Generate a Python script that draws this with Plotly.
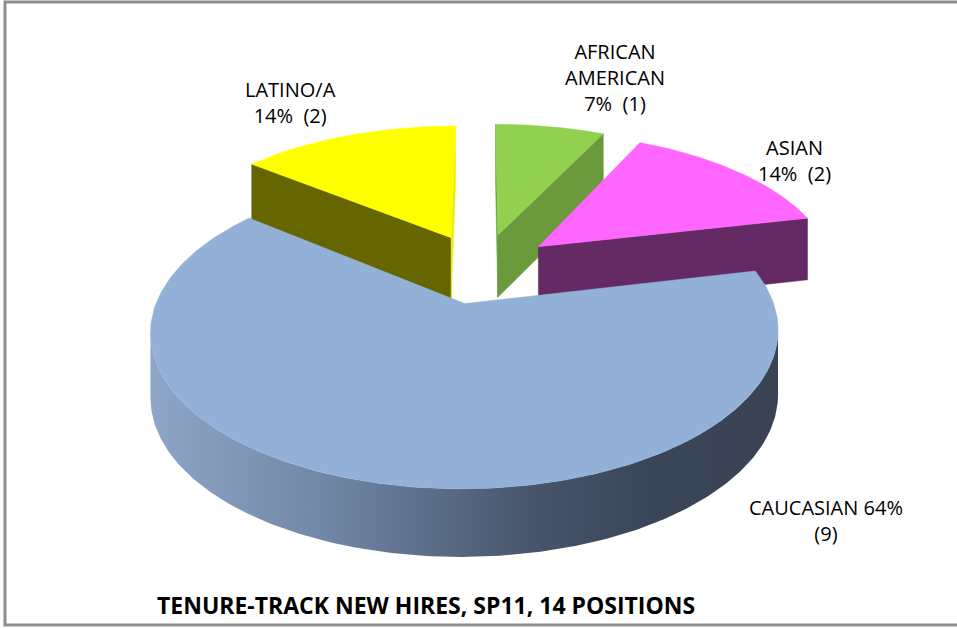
import numpy as np
import plotly.graph_objects as go

# ---- data ----
categories = ["AFRICAN AMERICAN", "ASIAN", "CAUCASIAN", "LATINO/A"]
counts = [1, 2, 9, 2]
label_templates = [
    "AFRICAN<br>AMERICAN<br>{p}%  ({n})",
    "ASIAN<br>{p}%  ({n})",
    "CAUCASIAN {p}%<br>({n})",
    "LATINO/A<br>{p}%  ({n})",
]
title_text = "TENURE-TRACK NEW HIRES, SP11, 14 POSITIONS"

# ---- style ----
top_colors = ["#92D050", "#FF66FF", "#93B1D6", "#FFFF00"]
start_face_colors = ["#6A9A3C", "#652865", "#5E7490", "#666600"]
end_face_colors = ["#6A9A3C", "#632A63", "#5E7490", "#EDED00"]
wall_colors = ["#6A9A3C", "#632A63", None, "#666600"]
wall_gradient = [[0.0, "#8EA6C7"], [0.3, "#6E84A2"], [0.62, "#46536A"], [0.8, "#3A4558"], [1.0, "#394354"]]
label_pos = [(615, 77), (794, 160), (826, 520), (290, 102)]

# projection parameters (pixel space)
CX, CY = 482.0, 268.0
A, B, K = 296.0, 140.0, 0.17
PULL = 0.25
H, KH = 63.0, 0.06


def proj(u, v, bottom=False):
    u = np.asarray(u, dtype=float)
    v = np.asarray(v, dtype=float)
    den = 1 + K * v
    x = CX + A * u / den
    y = CY - B * v / den
    if bottom:
        y = y + H / (1 + KH * v)
    return x, y


def area(xs, ys):
    xs = np.asarray(xs); ys = np.asarray(ys)
    return float(np.sum(xs * np.roll(ys, -1) - np.roll(xs, -1) * ys))


total = sum(counts)
fracs = [c / total for c in counts]
starts = np.cumsum([0] + fracs[:-1]) * 2 * np.pi
ends = np.cumsum(fracs) * 2 * np.pi

fig = go.Figure()

order = sorted(range(len(counts)), key=lambda i: -np.cos((starts[i] + ends[i]) / 2))

for i in order:
    t0, t1 = starts[i], ends[i]
    mid = (t0 + t1) / 2
    ou, ov = PULL * np.sin(mid), PULL * np.cos(mid)
    ts = np.linspace(t0, t1, 200)
    ru, rv = ou + np.sin(ts), ov + np.cos(ts)
    xt, yt = proj(ru, rv)
    ax_t, ay_t = proj(ou, ov)
    ax_b, ay_b = proj(ou, ov, bottom=True)

    # outer wall: visible between rightmost and leftmost points of this slice's ellipse
    tf = np.linspace(0, 2 * np.pi, 2000)
    fx, _ = proj(ou + np.sin(tf), ov + np.cos(tf))
    t_right, t_left = tf[np.argmax(fx)], tf[np.argmin(fx)]
    w0, w1 = max(t0, t_right), min(t1, t_left)
    if w1 > w0:
        tw = np.linspace(w0, w1, 200)
        wu, wv = ou + np.sin(tw), ov + np.cos(tw)
        wxt, wyt = proj(wu, wv)
        wxb, wyb = proj(wu, wv, bottom=True)
        px = np.concatenate([wxt, wxb[::-1], wxt[:1]])
        py = np.concatenate([wyt, wyb[::-1], wyt[:1]])
        if wall_colors[i] is None:
            fig.add_trace(go.Scatter(x=px, y=py, mode="lines", fill="toself",
                                     line=dict(width=0, color="#5E7490"),
                                     fillgradient=dict(type="horizontal", colorscale=wall_gradient),
                                     hoverinfo="skip"))
        else:
            fig.add_trace(go.Scatter(x=px, y=py, mode="lines", fill="toself",
                                     fillcolor=wall_colors[i], line=dict(width=0.5, color=wall_colors[i]),
                                     hoverinfo="skip"))

    # radial cut faces (drawn only when facing the viewer)
    for t, sign, col in ((t0, -1, start_face_colors[i]), (t1, 1, end_face_colors[i])):
        rx_t, ry_t = proj(ou + np.sin(t), ov + np.cos(t))
        rx_b, ry_b = proj(ou + np.sin(t), ov + np.cos(t), bottom=True)
        qx = [float(ax_t), float(rx_t), float(rx_b), float(ax_b)]
        qy = [float(ay_t), float(ry_t), float(ry_b), float(ay_b)]
        if area(qx, qy) * sign > 0:
            fig.add_trace(go.Scatter(x=qx + qx[:1], y=qy + qy[:1], mode="lines", fill="toself",
                                     fillcolor=col, line=dict(width=0.5, color=col),
                                     hoverinfo="skip"))

    # top face
    px = np.concatenate([[ax_t], xt, [ax_t]])
    py = np.concatenate([[ay_t], yt, [ay_t]])
    fig.add_trace(go.Scatter(x=px, y=py, mode="lines", fill="toself",
                             fillcolor=top_colors[i], line=dict(width=0.5, color=top_colors[i]),
                             hoverinfo="skip"))

font_family = "'Open Sans', Lato, sans-serif"
for i, tpl in enumerate(label_templates):
    p = round(100 * counts[i] / total)
    fig.add_annotation(x=label_pos[i][0], y=label_pos[i][1], xref="x", yref="y",
                       text=tpl.format(p=p, n=counts[i]), showarrow=False,
                       align="center", font=dict(family=font_family, size=20, color="#000000"))

fig.add_annotation(x=426, y=605, xref="x", yref="y", text="<b>" + title_text + "</b>",
                   showarrow=False, font=dict(family=font_family, size=23, color="#000000"))

fig.add_shape(type="rect", xref="x", yref="y", x0=5, y0=2, x1=962, y1=625,
              line=dict(color="#8E8E8E", width=3), fillcolor="rgba(0,0,0,0)", layer="above")

fig.update_layout(
    width=957, height=629,
    margin=dict(l=0, r=0, t=0, b=0),
    paper_bgcolor="white", plot_bgcolor="white",
    showlegend=False, hovermode=False,
    xaxis=dict(range=[0, 957], visible=False, fixedrange=True),
    yaxis=dict(range=[629, 0], visible=False, fixedrange=True),
)

fig.write_html(
    "out.html",
    config={"displayModeBar": False, "staticPlot": True},
    post_script="document.body.style.margin='0';document.body.style.overflow='hidden';",
)
